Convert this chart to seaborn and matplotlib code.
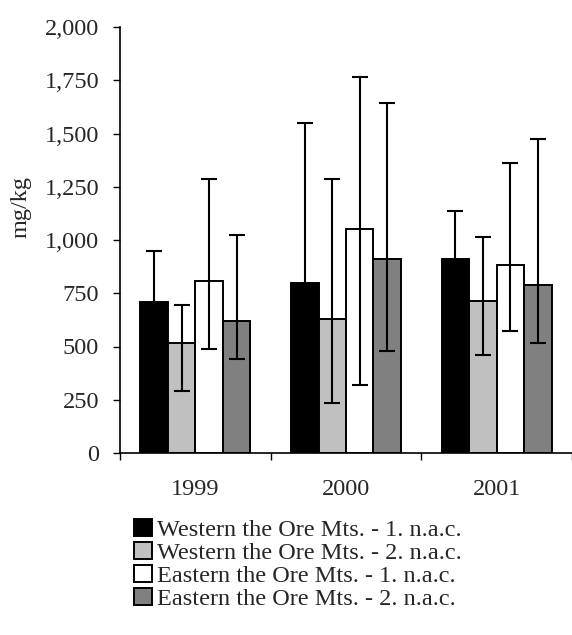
import numpy as np
import pandas as pd
import matplotlib
matplotlib.use("Agg")
import matplotlib.pyplot as plt
import seaborn as sns
from matplotlib.ticker import FuncFormatter, FixedLocator

years = ["1999", "2000", "2001"]
series = ["Western the Ore Mts. - 1. n.a.c.",
          "Western the Ore Mts. - 2. n.a.c.",
          "Eastern the Ore Mts. - 1. n.a.c.",
          "Eastern the Ore Mts. - 2. n.a.c."]
colors = ["#000000", "#c0c0c0", "#ffffff", "#808080"]

# mean values per series (1999, 2000, 2001)
w1_mean = [707, 800, 912]
w2_mean = [515, 628, 712]
e1_mean = [808, 1050, 881]
e2_mean = [621, 912, 787]
# upper ends of error bars
w1_hi = [948, 1551, 1136]
w2_hi = [695, 1286, 1013]
e1_hi = [1286, 1764, 1360]
e2_hi = [1023, 1642, 1474]
# lower ends of error bars
w1_lo = [466, 49, 688]
w2_lo = [290, 233, 459]
e1_lo = [488, 318, 571]
e2_lo = [440, 479, 516]

means = [w1_mean, w2_mean, e1_mean, e2_mean]
his = [w1_hi, w2_hi, e1_hi, e2_hi]
los = [w1_lo, w2_lo, e1_lo, e2_lo]

rows = []
for s, m in zip(series, means):
    for y, v in zip(years, m):
        rows.append({"year": y, "series": s, "value": v})
df = pd.DataFrame(rows)

FS = 17.5
sns.set_style("white")
plt.rcParams['font.family'] = ['Liberation Serif', 'DejaVu Serif']
plt.rcParams['font.size'] = FS

fig = plt.figure(figsize=(5.72, 6.35), dpi=100)
ax = fig.add_axes([120/572, 1-453/635, 452/572, (453-27)/635])

sns.barplot(data=df, x="year", y="value", hue="series", hue_order=series,
            order=years, palette=colors, width=0.73, errorbar=None,
            edgecolor="black", linewidth=1.4, saturation=1, ax=ax, legend=True)

for cont, hi, lo, m in zip(ax.containers, his, los, means):
    xs = [p.get_x() + p.get_width()/2 for p in cont.patches]
    m = np.array(m); hi = np.array(hi); lo = np.array(lo)
    ax.errorbar(xs, m, yerr=[m - lo, hi - m], fmt="none", ecolor="black",
                elinewidth=1.5, capsize=5.8, capthick=1.5, zorder=5)

ax.set_ylim(0, 2000)
ax.set_xlim(-0.5, 2.5)
ax.set_yticks(np.arange(0, 2001, 250))
ax.yaxis.set_major_formatter(FuncFormatter(lambda v, p: f"{int(v):,}"))
ax.set_xlabel("")
ax.set_ylabel("mg/kg", fontsize=FS)
ax.yaxis.set_label_coords(-0.195, 0.577)
ax.xaxis.set_minor_locator(FixedLocator([-0.5, 0.5, 1.5, 2.5]))
ax.tick_params(axis="x", which="major", length=0, pad=19, labelsize=FS)
ax.tick_params(axis="x", which="minor", length=5, width=1, color="black", direction="out", bottom=True)
ax.tick_params(axis="y", length=5, width=1, color="black", direction="out", left=True, labelsize=FS, pad=10)
for side in ["top", "right"]:
    ax.spines[side].set_visible(False)
for side in ["left", "bottom"]:
    ax.spines[side].set_color("black")
    ax.spines[side].set_linewidth(1.2)

handles, labels = ax.get_legend_handles_labels()
ax.get_legend().remove()
fig.legend(handles, labels, loc="upper left", bbox_to_anchor=(134/572, 1-519/635),
           frameon=False, fontsize=FS, handlelength=0.72, handleheight=0.72,
           handletextpad=0.22, labelspacing=0.03, borderpad=0, borderaxespad=0)

fig.savefig("out.png", dpi=100)
